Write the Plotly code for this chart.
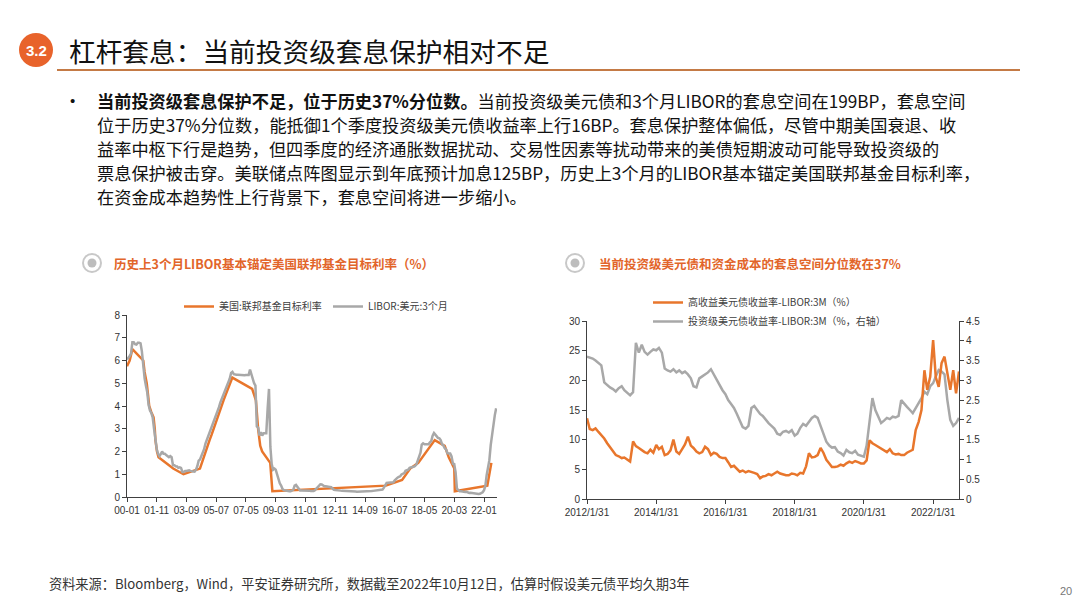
import plotly.graph_objects as go
import pandas as pd

W, H = 1080, 608

# ---------------- Left chart data ----------------
ffr_dates = ["2000-01-01", "2000-03-01", "2000-05-01", "2001-01-01", "2001-01-31", "2001-03-20",
             "2001-04-18", "2001-05-15", "2001-06-27", "2001-08-21", "2001-09-17", "2001-10-02",
             "2001-11-06", "2001-12-11", "2002-11-06", "2003-06-25", "2004-06-30", "2004-08-10",
             "2004-09-21", "2004-11-10", "2004-12-14", "2005-02-02", "2005-03-22", "2005-05-03",
             "2005-06-30", "2005-08-09", "2005-09-20", "2005-11-01", "2005-12-13", "2006-01-31",
             "2006-03-28", "2006-05-10", "2006-06-29", "2007-09-18", "2007-10-31", "2007-12-11",
             "2008-01-30", "2008-03-18", "2008-04-30", "2008-10-29", "2008-12-16", "2015-12-16",
             "2016-12-14", "2017-03-15", "2017-06-14", "2017-12-13", "2018-03-21", "2018-06-13",
             "2018-09-26", "2018-12-19", "2019-07-31", "2019-09-18", "2019-10-30", "2020-03-03",
             "2020-03-15", "2022-03-16", "2022-05-04", "2022-06-15"]
ffr_values = [5.75, 6.0, 6.5, 6.0, 5.5, 5.0,
              4.5, 4.0, 3.75, 3.5, 3.0, 2.5,
              2.0, 1.75, 1.25, 1.0, 1.25, 1.5,
              1.75, 2.0, 2.25, 2.5, 2.75, 3.0,
              3.25, 3.5, 3.75, 4.0, 4.25, 4.5,
              4.75, 5.0, 5.25, 4.75, 4.5, 4.25,
              3.0, 2.25, 2.0, 1.5, 0.25, 0.5,
              0.75, 1.0, 1.25, 1.5, 1.75, 2.0,
              2.25, 2.5, 2.25, 2.0, 1.75, 1.25,
              0.25, 0.5, 1.0, 1.5]

libor_values = [
    6.04, 6.10, 6.20, 6.30, 6.80, 6.80, 6.72, 6.70, 6.78, 6.78, 6.75, 6.40,   # 2000
    5.60, 5.20, 4.90, 4.60, 4.05, 3.80, 3.70, 3.50, 3.00, 2.40, 2.10, 1.90,   # 2001
    1.80, 1.90, 2.00, 1.90, 1.90, 1.85, 1.80, 1.75, 1.80, 1.75, 1.40, 1.40,   # 2002
    1.35, 1.34, 1.28, 1.30, 1.28, 1.10, 1.10, 1.14, 1.14, 1.16, 1.17, 1.15,   # 2003
    1.12, 1.12, 1.11, 1.20, 1.35, 1.60, 1.65, 1.78, 1.98, 2.10, 2.35, 2.50,   # 2004
    2.70, 2.85, 3.00, 3.15, 3.30, 3.45, 3.60, 3.80, 3.95, 4.15, 4.30, 4.50,   # 2005
    4.60, 4.80, 4.95, 5.10, 5.20, 5.45, 5.50, 5.40, 5.37, 5.37, 5.37, 5.36,   # 2006
    5.36, 5.35, 5.35, 5.35, 5.36, 5.36, 5.36, 5.60, 5.40, 5.10, 5.00, 4.90,   # 2007
    3.10, 3.05, 2.70, 2.85, 2.70, 2.80, 2.80, 2.80, 3.90, 4.75, 2.20, 1.45,   # 2008
    1.20, 1.25, 1.20, 1.00, 0.70, 0.60, 0.50, 0.35, 0.30, 0.28, 0.26, 0.25,   # 2009
    0.25, 0.25, 0.28, 0.32, 0.50, 0.53, 0.45, 0.36, 0.29, 0.29, 0.29, 0.30,   # 2010
    0.30, 0.31, 0.30, 0.28, 0.26, 0.25, 0.26, 0.30, 0.36, 0.42, 0.50, 0.56,   # 2011
    0.55, 0.49, 0.47, 0.47, 0.47, 0.46, 0.44, 0.43, 0.37, 0.32, 0.31, 0.31,   # 2012
    0.30, 0.29, 0.28, 0.27, 0.27, 0.27, 0.27, 0.26, 0.25, 0.24, 0.24, 0.25,   # 2013
    0.24, 0.24, 0.23, 0.23, 0.23, 0.23, 0.24, 0.24, 0.24, 0.23, 0.23, 0.25,   # 2014
    0.25, 0.26, 0.27, 0.28, 0.28, 0.28, 0.30, 0.32, 0.33, 0.33, 0.41, 0.53,   # 2015
    0.62, 0.63, 0.63, 0.64, 0.66, 0.65, 0.73, 0.81, 0.85, 0.88, 0.91, 0.99,   # 2016
    1.03, 1.05, 1.15, 1.16, 1.20, 1.28, 1.31, 1.32, 1.33, 1.36, 1.43, 1.61,   # 2017
    1.77, 1.95, 2.30, 2.36, 2.32, 2.33, 2.34, 2.32, 2.40, 2.46, 2.70, 2.81,   # 2018
    2.74, 2.65, 2.60, 2.58, 2.50, 2.32, 2.27, 2.14, 2.09, 1.92, 1.91, 1.91,   # 2019
    1.78, 1.46, 1.45, 1.09, 0.37, 0.30, 0.25, 0.25, 0.23, 0.22, 0.22, 0.23,   # 2020
    0.20, 0.18, 0.19, 0.18, 0.15, 0.13, 0.13, 0.12, 0.13, 0.14, 0.17, 0.21,   # 2021
    0.30, 0.50, 0.96, 1.33, 1.62, 2.29, 2.79, 3.10, 3.60, 3.90,               # 2022
]
libor_dates = pd.date_range("2000-01-01", periods=len(libor_values), freq="MS")

left_tick_vals = ["2000-01-01", "2001-11-01", "2003-09-01", "2005-07-01", "2007-05-01",
                  "2009-03-01", "2011-01-01", "2012-11-01", "2014-09-01", "2016-07-01",
                  "2018-05-01", "2020-03-01", "2022-01-01"]
left_tick_text = ["00-01", "01-11", "03-09", "05-07", "07-05", "09-03", "11-01",
                  "12-11", "14-09", "16-07", "18-05", "20-03", "22-01"]

# ---------------- Right chart data ----------------
hy_values = [
    13.6, 11.8, 11.6, 11.9, 11.3, 10.8, 10.2, 9.4, 8.8, 8.2, 7.4, 7.2,    # 2012
    6.9, 7.0, 6.6, 6.3, 9.7, 8.9, 8.6, 8.2, 7.9, 7.7, 8.3, 7.8,           # 2013
    9.1, 8.4, 8.8, 7.4, 7.6, 8.2, 10.0, 8.0, 7.6, 8.4, 9.2, 10.5,         # 2014
    9.0, 8.6, 8.0, 7.7, 7.9, 8.8, 8.4, 7.4, 7.8, 7.6, 7.1, 6.9,           # 2015
    6.9, 6.2, 5.4, 5.6, 5.0, 4.6, 4.8, 4.5, 4.7, 4.6, 4.4, 4.2,           # 2016
    3.5, 3.8, 3.9, 4.2, 4.0, 4.3, 4.6, 4.3, 4.1, 4.0, 4.0, 4.3,           # 2017
    4.2, 4.0, 4.4, 4.3, 5.5, 7.7, 7.0, 7.1, 7.4, 8.6, 7.8, 6.6,           # 2018
    6.0, 5.4, 5.4, 5.5, 5.8, 5.6, 6.0, 6.3, 6.1, 6.4, 6.2, 6.0,           # 2019
    6.0, 6.5, 9.9, 9.4, 9.1, 8.8, 8.6, 8.2, 7.9, 8.4, 7.7, 7.5,           # 2020
    7.6, 7.4, 7.4, 7.8, 8.0, 8.3, 11.6, 13.0, 15.0, 21.7, 18.4, 20.6,     # 2021
    26.8, 20.5, 18.9, 22.9, 24.0, 21.2, 18.4, 21.7, 17.8, 21.5,           # 2022
]
ig_values = [
    3.60, 3.58, 3.55, 3.50, 3.45, 3.38, 2.95, 2.88, 2.82, 2.78, 2.72, 2.80,   # 2012
    2.85, 2.75, 2.68, 2.62, 2.70, 3.95, 3.70, 3.90, 3.72, 3.65, 3.72, 3.78,   # 2013
    3.76, 3.82, 3.70, 3.30, 3.25, 3.22, 3.28, 3.20, 3.25, 3.18, 3.22, 3.15,   # 2014
    3.05, 2.85, 2.82, 3.05, 3.10, 3.15, 3.20, 3.28, 3.15, 3.00, 2.90, 2.75,   # 2015
    2.65, 2.50, 2.40, 2.30, 2.15, 2.00, 1.82, 1.78, 1.85, 2.30, 2.35, 2.25,   # 2016
    2.15, 2.10, 2.00, 1.92, 1.85, 1.78, 1.65, 1.62, 1.70, 1.72, 1.68, 1.74,   # 2017
    1.60, 1.65, 1.80, 1.90, 1.85, 1.95, 2.05, 2.10, 2.05, 1.85, 1.65, 1.45,   # 2018
    1.35, 1.30, 1.31, 1.20, 1.16, 1.10, 1.24, 1.18, 1.16, 1.22, 1.12, 1.10,   # 2019
    1.07, 1.35, 2.00, 2.55, 2.25, 2.10, 1.92, 1.98, 2.05, 2.02, 2.08, 2.06,   # 2020
    2.10, 2.50, 2.40, 2.33, 2.25, 2.17, 2.30, 2.42, 2.55, 2.71, 2.65, 2.85,   # 2021
    2.93, 3.10, 3.26, 3.22, 3.15, 2.50, 2.00, 1.85, 1.92, 2.05,               # 2022
]
spread_dates = pd.date_range("2012-01-31", periods=len(hy_values), freq="ME")

right_tick_vals = ["2012-01-31", "2014-01-31", "2016-01-31", "2018-01-31", "2020-01-31", "2022-01-31"]
right_tick_text = ["2012/1/31", "2014/1/31", "2016/1/31", "2018/1/31", "2020/1/31", "2022/1/31"]

# ---------------- Texts ----------------
header_num = "3.2"
header_title = "杠杆套息：当前投资级套息保护相对不足"
bullet_lines = [
    "<b>当前投资级套息保护不足，位于历史37%分位数。</b>当前投资级美元债和3个月LIBOR的套息空间在199BP，套息空间",
    "位于历史37%分位数，能抵御1个季度投资级美元债收益率上行16BP。套息保护整体偏低，尽管中期美国衰退、收",
    "益率中枢下行是趋势，但四季度的经济通胀数据扰动、交易性因素等扰动带来的美债短期波动可能导致投资级的",
    "票息保护被击穿。美联储点阵图显示到年底预计加息125BP，历史上3个月的LIBOR基本锚定美国联邦基金目标利率，",
    "在资金成本趋势性上行背景下，套息空间将进一步缩小。",
]
left_title = "历史上3个月LIBOR基本锚定美国联邦基金目标利率（%）"
right_title = "当前投资级美元债和资金成本的套息空间分位数在37%"
footer = "资料来源：Bloomberg，Wind，平安证券研究所，数据截至2022年10月12日，估算时假设美元债平均久期3年"
page_no = "20"

ORANGE = "#E8762C"
GRAY = "#A8A8A8"
CJK = "Noto Sans CJK SC"
LAT = "Liberation Sans"


def px(x):
    return x / W


def py(y):
    return 1 - y / H


fig = go.Figure()

# Left chart traces
fig.add_trace(go.Scatter(x=ffr_dates, y=ffr_values, mode="lines", name="美国:联邦基金目标利率",
                         line=dict(color=ORANGE, width=2.5), xaxis="x", yaxis="y", legend="legend"))
fig.add_trace(go.Scatter(x=libor_dates, y=libor_values, mode="lines", name="LIBOR:美元:3个月",
                         line=dict(color=GRAY, width=2.5), xaxis="x", yaxis="y", legend="legend"))
# Right chart traces
fig.add_trace(go.Scatter(x=spread_dates, y=hy_values, mode="lines", name="高收益美元债收益率-LIBOR:3M（%）",
                         line=dict(color=ORANGE, width=2.5), xaxis="x2", yaxis="y3", legend="legend2"))
fig.add_trace(go.Scatter(x=spread_dates, y=ig_values, mode="lines", name="投资级美元债收益率-LIBOR:3M（%，右轴）",
                         line=dict(color=GRAY, width=2.5), xaxis="x2", yaxis="y2", legend="legend2"))

axis_common = dict(showgrid=False, zeroline=False, showline=True, linecolor="#404040", linewidth=1,
                   ticks="outside", ticklen=4, tickcolor="#404040", tickwidth=1, automargin=False,
                   tickfont=dict(family=LAT, size=10, color="#333333"))

fig.update_layout(
    template="none",
    width=W, height=H,
    margin=dict(l=0, r=0, t=0, b=0, pad=0, autoexpand=False),
    paper_bgcolor="white", plot_bgcolor="white",
    showlegend=True,
    xaxis=dict(domain=[px(127), px(497)], anchor="y", type="date",
               range=["2000-01-01", "2022-10-20"], tickmode="array",
               tickvals=left_tick_vals, ticktext=left_tick_text, **axis_common),
    yaxis=dict(domain=[py(497), py(315)], anchor="x", range=[0, 8], dtick=1, **axis_common),
    xaxis2=dict(domain=[px(587), px(959)], anchor="y2", type="date",
                range=["2012-01-31", "2022-10-31"], tickmode="array",
                tickvals=right_tick_vals, ticktext=right_tick_text, **axis_common),
    yaxis2=dict(domain=[py(499), py(321)], anchor="x2", side="right", range=[0, 4.5], dtick=0.5,
                **axis_common),
    yaxis3=dict(overlaying="y2", anchor="x2", side="left", range=[0, 30], dtick=5, **axis_common),
    legend=dict(orientation="h", x=px(179), y=py(292), xanchor="left", yanchor="top",
                font=dict(family=CJK, size=10, color="#404040"), bgcolor="rgba(0,0,0,0)",
                entrywidth=104, entrywidthmode="pixels", itemwidth=30),
    legend2=dict(orientation="v", x=px(648), y=py(288), xanchor="left", yanchor="top",
                 font=dict(family=CJK, size=10, color="#404040"), bgcolor="rgba(0,0,0,0)",
                 itemwidth=30, tracegroupgap=0),
)

shapes = []
annotations = []

# Header
shapes.append(dict(type="circle", xref="paper", yref="paper", x0=px(19), x1=px(53), y0=py(67), y1=py(33),
                   fillcolor="#E8632B", line=dict(color="#E8632B", width=0)))
annotations.append(dict(text="<b>" + header_num + "</b>", x=px(36), y=py(50), xref="paper", yref="paper",
                        showarrow=False, font=dict(family=LAT, size=15, color="white"),
                        xanchor="center", yanchor="middle"))
annotations.append(dict(text=header_title, x=px(67), y=py(50), xref="paper", yref="paper", showarrow=False,
                        font=dict(family=CJK, size=26.7, color="#111111"), xanchor="left", yanchor="middle"))
shapes.append(dict(type="line", xref="paper", yref="paper", x0=px(57), x1=px(1020), y0=py(70), y1=py(70),
                   line=dict(color="#C47A45", width=2)))

# Bullet paragraph
annotations.append(dict(text="•", x=px(68), y=py(100), xref="paper", yref="paper", showarrow=False,
                        font=dict(family=LAT, size=15, color="#111111"), xanchor="left", yanchor="middle"))
for i, line in enumerate(bullet_lines):
    annotations.append(dict(text=line, x=px(95), y=py(100 + 24 * i), xref="paper", yref="paper",
                            showarrow=False, font=dict(family=CJK, size=17.2, color="#111111"),
                            xanchor="left", yanchor="middle"))

# Chart titles with ring icons
for cx, tx, title in [(92, 112, left_title), (575, 597, right_title)]:
    shapes.append(dict(type="circle", xref="paper", yref="paper", x0=px(cx - 9), x1=px(cx + 9),
                       y0=py(263 + 9), y1=py(263 - 9), fillcolor="white",
                       line=dict(color="#C8C8C8", width=2)))
    shapes.append(dict(type="circle", xref="paper", yref="paper", x0=px(cx - 4.5), x1=px(cx + 4.5),
                       y0=py(263 + 4.5), y1=py(263 - 4.5), fillcolor="#BDBDBD",
                       line=dict(color="#BDBDBD", width=0)))
    annotations.append(dict(text="<b>" + title + "</b>", x=px(tx), y=py(263), xref="paper", yref="paper",
                            showarrow=False, font=dict(family=CJK, size=12.5, color="#E2652A"),
                            xanchor="left", yanchor="middle"))

# Footer
annotations.append(dict(text=footer, x=px(47), y=py(583), xref="paper", yref="paper", showarrow=False,
                        font=dict(family=CJK, size=13.2, color="#333333"), xanchor="left", yanchor="middle"))
annotations.append(dict(text=page_no, x=px(1074), y=py(591), xref="paper", yref="paper", showarrow=False,
                        font=dict(family=LAT, size=11, color="#777777"), xanchor="right", yanchor="middle"))

fig.update_layout(shapes=shapes, annotations=annotations)

fig.write_html("out.html")
